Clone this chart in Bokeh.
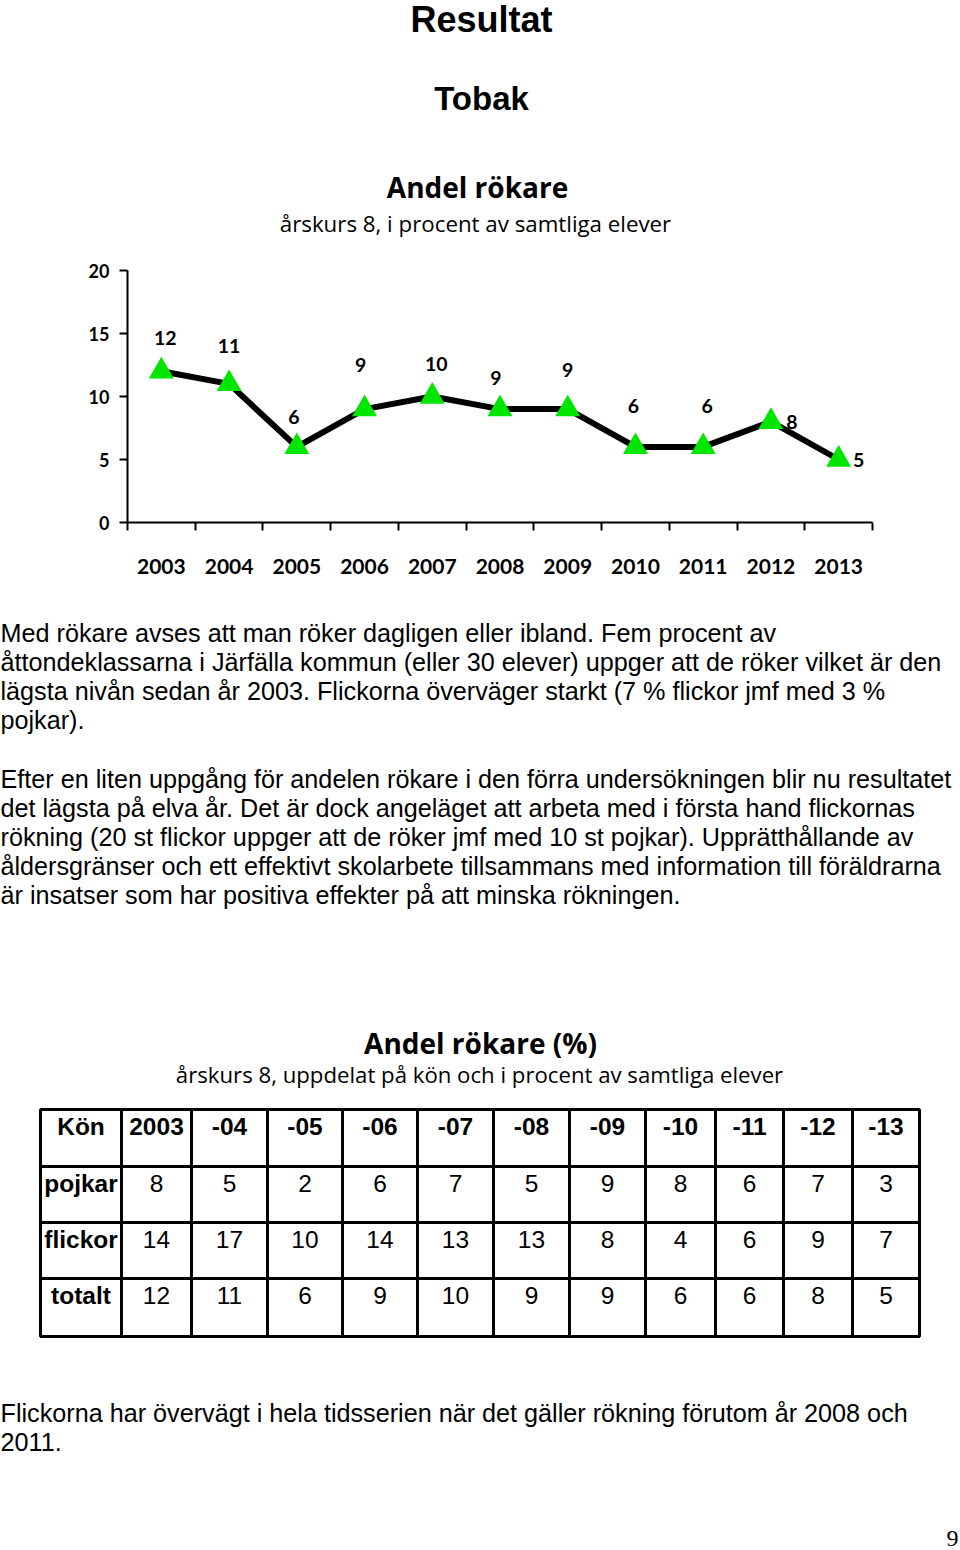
from bokeh.plotting import figure
from bokeh.models import Range1d, FixedTicker, ColumnDataSource, LinearAxis
from bokeh.core.properties import value
from bokeh.embed import file_html
from bokeh.resources import INLINE

# ---------------- data ----------------
years = [2003, 2004, 2005, 2006, 2007, 2008, 2009, 2010, 2011, 2012, 2013]
andel_rokare = [12, 11, 6, 9, 10, 9, 9, 6, 6, 8, 5]
y_ticks = [0, 5, 10, 15, 20]

table_header = ["Kön", "2003", "-04", "-05", "-06", "-07", "-08", "-09", "-10", "-11", "-12", "-13"]
row_labels = ["pojkar", "flickor", "totalt"]
pojkar = [8, 5, 2, 6, 7, 5, 9, 8, 6, 7, 3]
flickor = [14, 17, 10, 14, 13, 13, 8, 4, 6, 9, 7]
totalt = [12, 11, 6, 9, 10, 9, 9, 6, 6, 8, 5]

page_title = "Resultat"
section_title = "Tobak"
chart_title = "Andel rökare"
chart_subtitle = "årskurs 8, i procent av samtliga elever"
para1 = [
    "Med rökare avses att man röker dagligen eller ibland. Fem procent av",
    "åttondeklassarna i Järfälla kommun (eller 30 elever) uppger att de röker vilket är den",
    "lägsta nivån sedan år 2003. Flickorna överväger starkt (7 % flickor jmf med 3 %",
    "pojkar).",
]
para2 = [
    "Efter en liten uppgång för andelen rökare i den förra undersökningen blir nu resultatet",
    "det lägsta på elva år. Det är dock angeläget att arbeta med i första hand flickornas",
    "rökning (20 st flickor uppger att de röker jmf med 10 st pojkar). Upprätthållande av",
    "åldersgränser och ett effektivt skolarbete tillsammans med information till föräldrarna",
    "är insatser som har positiva effekter på att minska rökningen.",
]
table_title = "Andel rökare (%)"
table_subtitle = "årskurs 8, uppdelat på kön och i procent av samtliga elever"
footer = [
    "Flickorna har övervägt i hela tidsserien när det gäller rökning förutom år 2008 och",
    "2011.",
]
page_number = "9"

# ---------------- styling / layout ----------------
W, H = 960, 1550
ARIAL = value("Liberation Sans")
GILL = value("Open Sans")
GREEN = "#00e600"
label_dx = [4, 0, -3, -4, 4, -4, 0, -2, 4, 21, 20]
label_dy = [-33, -38, -30, -44, -33, -31, -39, -41, -41, 0, 0]
BODY_FS = "25.2px"

# chart frame in page pixels
cx0, cx1 = 127, 872      # left/right of plot area
cy_top, cy_bot = 270, 522  # pixel rows of y=20 and y=0
x_lo, x_hi = years[0] - 0.5, years[-1] + 0.5
y_lo, y_hi = y_ticks[0], y_ticks[-1]
ppx = (cx1 - cx0) / (x_hi - x_lo)
ppy = (cy_bot - cy_top) / (y_hi - y_lo)

p = figure(width=W, height=H, x_range=Range1d(0, W), y_range=Range1d(H, 0),
           output_backend="svg", toolbar_location=None,
           x_axis_location=None, y_axis_location=None, min_border=0)
p.outline_line_color = None
p.grid.visible = False
p.background_fill_color = "white"
p.border_fill_color = "white"

p.extra_x_ranges = {"yr": Range1d(x_lo - cx0 / ppx, x_hi + (W - cx1) / ppx)}
p.extra_y_ranges = {"pct": Range1d(y_lo - (H - cy_bot) / ppy, y_lo + cy_bot / ppy)}

# ---------------- header ----------------
p.text(x=[481], y=[19], text=[page_title], text_font=ARIAL, text_font_style="bold",
       text_font_size="36px", text_align="center", text_baseline="middle")
p.text(x=[481], y=[98], text=[section_title], text_font=ARIAL, text_font_style="bold",
       text_font_size="33px", text_align="center", text_baseline="middle")
p.text(x=[477], y=[186], text=[chart_title], text_font=GILL, text_font_style="bold",
       text_font_size="28px", text_align="center", text_baseline="middle")
p.text(x=[475], y=[223], text=[chart_subtitle], text_font=GILL,
       text_font_size="22.3px", text_align="center", text_baseline="middle")

# ---------------- chart axes ----------------
xa = LinearAxis(x_range_name="yr", y_range_name="pct", fixed_location=y_lo, bounds=(x_lo, x_hi))
xa.ticker = FixedTicker(ticks=years, minor_ticks=[y - 0.5 for y in years] + [x_hi])
xa.major_label_overrides = {y: str(y) for y in years}
xa.major_tick_line_color = None
xa.major_tick_out = 0
xa.major_tick_in = 0
xa.minor_tick_out = 8
xa.minor_tick_in = 0
xa.minor_tick_line_width = 2
xa.minor_tick_line_color = "black"
xa.axis_line_width = 2
xa.axis_line_color = "black"
xa.major_label_text_font = "Lato"
xa.major_label_text_font_style = "bold"
xa.major_label_text_font_size = "21px"
xa.major_label_text_color = "black"
xa.major_label_standoff = 28
p.add_layout(xa, "below")

ya = LinearAxis(x_range_name="yr", y_range_name="pct", fixed_location=x_lo, bounds=(y_lo, y_hi))
ya.ticker = FixedTicker(ticks=y_ticks, minor_ticks=[])
ya.major_tick_out = 8
ya.major_tick_in = 0
ya.major_tick_line_width = 2
ya.major_tick_line_color = "black"
ya.minor_tick_line_color = None
ya.axis_line_width = 2
ya.axis_line_color = "black"
ya.major_label_text_font = "Lato"
ya.major_label_text_font_style = "bold"
ya.major_label_text_font_size = "18px"
ya.major_label_text_color = "black"
ya.major_label_standoff = 10
p.add_layout(ya, "left")

# ---------------- chart marks ----------------
src = ColumnDataSource(dict(x=years, y=andel_rokare, lbl=[str(v) for v in andel_rokare],
                            dx=label_dx, dy=label_dy))
p.line("x", "y", source=src, line_width=6, line_color="black",
       x_range_name="yr", y_range_name="pct")
p.scatter("x", "y", source=src, marker="triangle", size=25, fill_color=GREEN, line_color=None,
          x_range_name="yr", y_range_name="pct")
p.text("x", "y", text="lbl", source=src, x_offset="dx", y_offset="dy",
       text_font=value("Lato"), text_font_style="bold", text_font_size="19.5px",
       text_align="center", text_baseline="middle", text_color="black",
       x_range_name="yr", y_range_name="pct")

# ---------------- body text ----------------
lh = 29.2
p.text(x=[0] * len(para1), y=[632 + i * lh for i in range(len(para1))], text=para1,
       text_font=ARIAL, text_font_size=BODY_FS, text_baseline="middle", text_align="left")
p.text(x=[0] * len(para2), y=[778 + i * lh for i in range(len(para2))], text=para2,
       text_font=ARIAL, text_font_size=BODY_FS, text_baseline="middle", text_align="left")

p.text(x=[480], y=[1042], text=[table_title], text_font=GILL, text_font_style="bold",
       text_font_size="28px", text_align="center", text_baseline="middle")
p.text(x=[479], y=[1074], text=[table_subtitle], text_font=GILL,
       text_font_size="22.2px", text_align="center", text_baseline="middle")

# ---------------- table ----------------
col_edges = [40, 121, 191, 267, 342, 417, 493, 569, 645, 715, 783, 852, 919]
row_edges = [1109, 1166, 1222, 1278, 1336]
rows = [table_header] + [[lab] + [str(v) for v in vals]
                         for lab, vals in zip(row_labels, [pojkar, flickor, totalt])]
L, R, T, B, tx, ty, tt, tb = [], [], [], [], [], [], [], []
for r, row in enumerate(rows):
    for c, cell in enumerate(row):
        L.append(col_edges[c]); R.append(col_edges[c + 1])
        T.append(row_edges[r]); B.append(row_edges[r + 1])
        tx.append((col_edges[c] + col_edges[c + 1]) / 2)
        ty.append(row_edges[r] + 17)
        tt.append(cell)
        tb.append("bold" if (r == 0 or c == 0) else "normal")
p.quad(left=L, right=R, top=T, bottom=B, fill_color="white", line_color="black", line_width=3)
cells = ColumnDataSource(dict(x=tx, y=ty, t=tt, s=tb))
p.text("x", "y", text="t", source=cells, text_font=ARIAL, text_font_style="s",
       text_font_size="24.5px", text_align="center", text_baseline="middle")

# ---------------- footer ----------------
p.text(x=[0] * len(footer), y=[1412 + i * lh for i in range(len(footer))], text=footer,
       text_font=ARIAL, text_font_size=BODY_FS, text_baseline="middle", text_align="left")
p.text(x=[958], y=[1538], text=[page_number], text_font=value("Liberation Serif"),
       text_font_size="24px", text_align="right", text_baseline="middle")

open("out.html", "w").write(file_html(p, INLINE))
